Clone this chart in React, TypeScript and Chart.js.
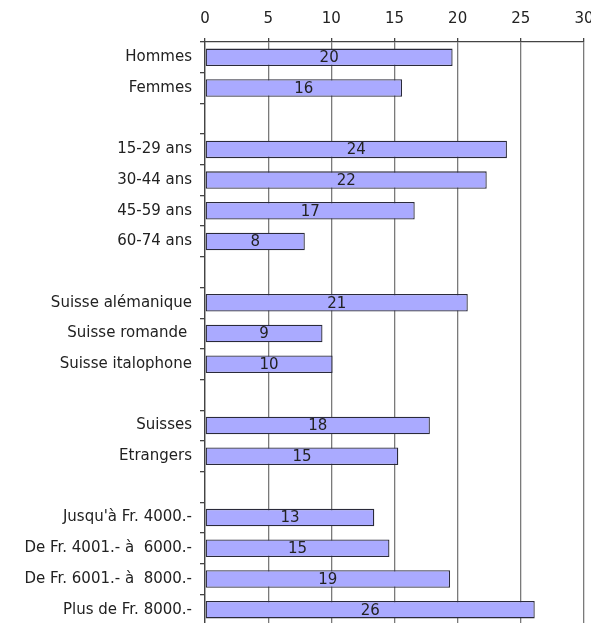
import React, { useEffect, useRef } from "react";
import { Chart, registerables } from "chart.js";

Chart.register(...registerables);

const categories: string[] = [
  "Hommes",
  "Femmes",
  "",
  "15-29 ans",
  "30-44 ans",
  "45-59 ans",
  "60-74 ans",
  "",
  "Suisse alémanique",
  "Suisse romande ",
  "Suisse italophone",
  "",
  "Suisses",
  "Etrangers",
  "",
  "Jusqu'à Fr. 4000.-",
  "De Fr. 4001.- à  6000.-",
  "De Fr. 6001.- à  8000.-",
  "Plus de Fr. 8000.-",
];

const values: (number | null)[] = [
  19.6, 15.6, null, 23.9, 22.3, 16.6, 7.9, null, 20.8, 9.3, 10.1, null, 17.8, 15.3, null, 13.4, 14.6, 19.4, 26.1,
];

const valueLabels: string[] = [
  "20", "16", "", "24", "22", "17", "8", "", "21", "9", "10", "", "18", "15", "", "13", "15", "19", "26",
];

const xTicks = { min: 0, max: 30, step: 5 };

const FONT = "'DejaVu Sans', Verdana, sans-serif";

const barLabelPlugin = {
  id: "barLabels",
  afterDatasetsDraw(chart: any) {
    const ctx = chart.ctx;
    const meta = chart.getDatasetMeta(0);
    ctx.save();
    ctx.font = `15px ${FONT}`;
    ctx.fillStyle = "#222";
    ctx.textAlign = "center";
    ctx.textBaseline = "middle";
    meta.data.forEach((el: any, i: number) => {
      if (values[i] == null) return;
      const cx = (el.base + el.x) / 2;
      ctx.fillText(valueLabels[i], cx, el.y + 1);
    });
    ctx.restore();
  },
};

export default function App() {
  const ref = useRef<HTMLCanvasElement | null>(null);

  useEffect(() => {
    if (!ref.current) return;
    const chart = new Chart(ref.current, {
      type: "bar",
      data: {
        labels: categories,
        datasets: [
          {
            data: values as any,
            backgroundColor: "#aaaaff",
            borderColor: "#2a2a3a",
            borderWidth: 1.3,
            borderSkipped: false,
            barPercentage: 0.57,
            categoryPercentage: 1,
          },
        ],
      },
      options: {
        indexAxis: "y",
        responsive: false,
        animation: false,
        layout: { padding: { left: 0, right: 24, top: 0, bottom: 23 } },
        plugins: {
          legend: { display: false },
          tooltip: { enabled: false },
        },
        scales: {
          x: {
            position: "top",
            min: xTicks.min,
            max: xTicks.max,
            afterFit: (s: any) => {
              s.height = 34;
            },
            ticks: {
              stepSize: xTicks.step,
              font: { family: FONT, size: 15 },
              color: "#222",
              padding: 10,
            },
            grid: {
              color: "#7a7a7a",
              lineWidth: 1.3,
              tickLength: 4,
              tickColor: "#444",
            },
            border: { display: true, color: "#444", width: 1.3 },
          },
          y: {
            afterFit: (s: any) => {
              s.width = 197;
            },
            ticks: {
              autoSkip: false,
              font: { family: FONT, size: 15 },
              color: "#222",
              padding: 8,
            },
            grid: {
              offset: true,
              drawOnChartArea: false,
              tickLength: 5,
              color: "#444",
              lineWidth: 1.3,
            },
            border: { display: true, color: "#444", width: 1.3 },
          },
        },
      },
      plugins: [barLabelPlugin],
    });
    return () => chart.destroy();
  }, []);

  return (
    <div
      style={{
        position: "fixed",
        left: 0,
        top: 0,
        width: 591,
        height: 623,
        overflow: "hidden",
        background: "#fff",
      }}
    >
      <canvas
        ref={ref}
        width={600}
        height={640}
        style={{ position: "absolute", left: 8, top: 8, width: 600, height: 640, display: "block" }}
      />
    </div>
  );
}
